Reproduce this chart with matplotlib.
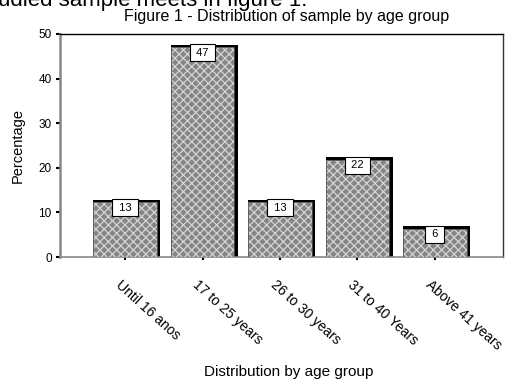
import matplotlib
matplotlib.use("Agg")
import matplotlib.pyplot as plt
import numpy as np

# 数据
categories = ["Until 16 anos", "17 to 25 years", "26 to 30 years",
              "31 to 40 Years", "Above 41 years"]
values = [12.3, 47.0, 12.3, 21.8, 6.3]
value_labels = ["13", "47", "13", "22", "6"]
yticks = [0, 10, 20, 30, 40, 50]

plt.rcParams['font.family'] = ['Liberation Sans', 'DejaVu Sans']
plt.rcParams['hatch.linewidth'] = 0.9
plt.rcParams['hatch.color'] = '#d4d4d4'

W, H = 519, 380
fig = plt.figure(figsize=(W / 100, H / 100), dpi=100)
ax = fig.add_axes([60 / W, 1 - 257 / H, (503 - 60) / W, (257 - 34) / H])

x = np.arange(len(categories))
bw = 0.82

# 阴影（上、右侧黑边）
ax.bar(x - bw / 2, np.array(values) + 0.55, width=bw + 0.045, align='edge',
       color='black', linewidth=0, zorder=2)
# 网格填充柱
ax.bar(x, values, width=bw, color='#858585', hatch='xxxx',
       edgecolor='#d4d4d4', linewidth=0, zorder=3)
ax.bar(x, values, width=bw, fill=False, edgecolor='#555555',
       linewidth=0.6, zorder=4)

# 数值标签
for xi, v, lab in zip(x, values, value_labels):
    ax.text(xi, v - 0.1, f" {lab} ", ha='center', va='top', fontsize=8,
            zorder=5,
            bbox=dict(boxstyle='square,pad=0.3', fc='white', ec='black', lw=0.8))

ax.set_xlim(-0.84, 4.88)
ax.set_ylim(0, 50)
ax.set_yticks(yticks)
ax.set_yticklabels([str(t) for t in yticks], fontsize=8.5)
ax.tick_params(axis='y', length=3, width=1.5, pad=3, color='black')
ax.set_xticks(x)
ax.set_xticklabels([])
ax.tick_params(axis='x', length=2, width=1.5, color='black')

for t, xi in zip(categories, x):
    ax.annotate(t, xy=(xi, 0), xycoords=('data', 'axes fraction'),
                xytext=(-2, -15), textcoords='offset points',
                rotation=-42, rotation_mode='anchor', ha='left', va='top',
                fontsize=10)

ax.spines['left'].set_color('#888888')
ax.spines['left'].set_linewidth(1.8)
ax.spines['bottom'].set_color('#888888')
ax.spines['bottom'].set_linewidth(1.2)
ax.spines['top'].set_color('black')
ax.spines['top'].set_linewidth(1.0)
ax.spines['right'].set_color('#333333')
ax.spines['right'].set_linewidth(1.0)

ax.set_ylabel('Percentage', fontsize=10.5, labelpad=10)
fig.text(0.553, 1 - 16 / H, 'Figure 1 - Distribution of sample by age group',
         ha='center', va='center', fontsize=11.5)
fig.text(0.557, 1 - 372 / H, 'Distribution by age group',
         ha='center', va='center', fontsize=11)
# 顶部被裁切的正文
fig.text(-2 / W, 1 - 6 / H, 'udied sample meets in figure 1.',
         ha='left', va='baseline', fontsize=16)

fig.savefig('out.png', dpi=100)
